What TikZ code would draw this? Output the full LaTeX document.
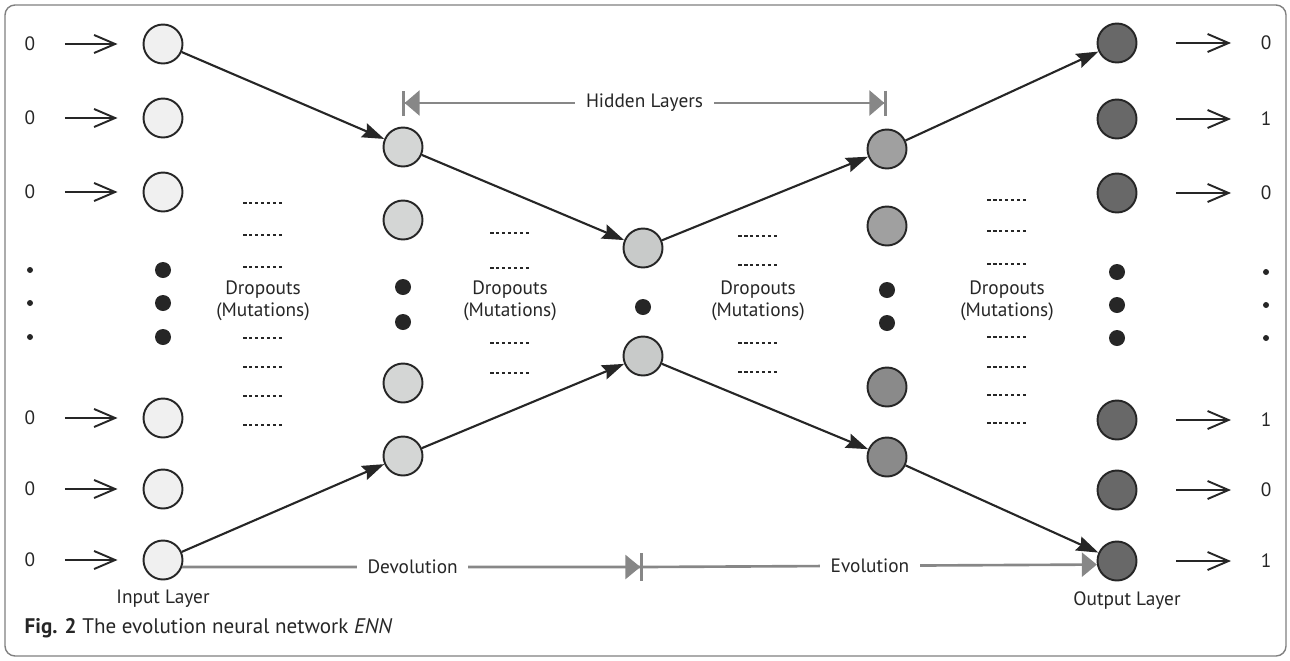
\documentclass[tikz,border=0pt]{standalone}
\usepackage{fontspec}
\setmainfont{PT Sans}
\usetikzlibrary{arrows.meta}
\definecolor{incol}{HTML}{F0F0F0}
\definecolor{hacol}{HTML}{D4D6D5}
\definecolor{midcol}{HTML}{C8CAC9}
\definecolor{hbcol}{HTML}{A0A0A0}
\definecolor{hccol}{HTML}{8A8A8A}
\definecolor{outcol}{HTML}{686868}
\definecolor{spancol}{HTML}{878787}
\tikzset{
every picture/.style={
line width=1pt
},
neuron/.style={circle, draw=black!85, line width=1.1pt, minimum size=0.78cm, inner sep=0pt},
link/.style={-{Stealth[length=0.44cm, width=0.3cm, inset=0.06cm]}, line width=1.2pt, black!85},
feed/.style={-{Straight Barb[length=0.42cm, width=0.36cm]}, line width=1.1pt, black!85},
span/.style={line width=1.5pt, spancol},
dropdots/.style={line width=1.1pt, black!85, dash pattern=on 2pt off 1.4pt},
lbl/.style={font=\fontsize{11}{12.6}\selectfont, text=black!85}
}

\begin{document}
\begin{tikzpicture}[x=0.02cm, y=-0.02cm]
\useasboundingbox (0,0) rectangle (1290,660);
\draw[black!50, line width=0.8pt, rounded corners=0.2cm] (5,5) rectangle (1286,656);

% input layer
\foreach \y [count=\ai] in {44, 118, 192, 418, 489, 560}{
  \node[neuron, fill=incol] (i\ai) at (163,\y) {};
  \node[lbl] (x\ai) at (30,\y) {0};
  \draw[feed, shorten <=0.46cm, shorten >=0.5cm] (x\ai) -- (i\ai);
}
% hidden layers
\foreach \y [count=\ai] in {147, 220, 383, 456}{
  \node[neuron, fill=hacol] (h\ai) at (403,\y) {};
}
\foreach \y [count=\ai] in {248, 356}{
  \node[neuron, fill=midcol] (m\ai) at (643,\y) {};
}
\foreach \y/\c [count=\ai] in {149/hbcol, 226/hbcol, 387/hccol, 457/hccol}{
  \node[neuron, fill=\c] (g\ai) at (887,\y) {};
}
% output layer
\foreach \y/\v [count=\ai] in {43/0, 119/1, 193/0, 420/1, 490/0, 561/1}{
  \node[neuron, fill=outcol] (o\ai) at (1117,\y) {};
  \node[lbl] (z\ai) at (1266,\y) {\v};
  \draw[feed, shorten <=0.78cm, shorten >=0.46cm] (o\ai) -- (z\ai);
}

% skipped neurons
\foreach \x/\y in {163/270, 163/303, 163/337, 403/287, 403/322, 643/307, 887/290, 887/323, 1117/272, 1117/305, 1117/338}{
  \fill[black!85] (\x,\y) circle[radius=8];
}
\foreach \x/\y in {30/270, 30/303, 30/337, 1266/272, 1266/305, 1266/338}{
  \fill[black!85] (\x,\y) circle[radius=3];
}

% dropouts
\foreach \x/\ys [count=\di] in {263/{203,235,267,338,367,396,425}, 510/{233,268,343,373}, 758/{236,265,343,372}, 1007/{200,231,264,337,367,395,423}}{
  \foreach \y in \ys {
    \draw[dropdots] (\x-20,\y) -- (\x+21,\y);
  }
  \node[lbl, align=center] (d\di) at (\x,301) {Dropouts\\(Mutations)};
}

% connections
\draw[link] (i1) -- (h1);
\draw[link] (h1) -- (m1);
\draw[link] (m1) -- (g1);
\draw[link] (g1) -- (o1);
\draw[link] (i6) -- (h4);
\draw[link] (h4) -- (m2);
\draw[link] (m2) -- (g4);
\draw[link] (g4) -- (o6);

% spans
\coordinate (hl) at (402,103);
\coordinate (hr) at (887,103);
\coordinate (cut) at (643,567);
\draw[span, {Bar[width=0.5cm]Triangle[length=0.3cm, width=0.5cm]}-{Triangle[length=0.3cm, width=0.5cm]Bar[width=0.5cm]}] (hl) -- node[lbl, fill=white, inner xsep=6pt] (hid) {Hidden Layers} (hr);
\draw[span, -{Triangle[length=0.3cm, width=0.48cm]Bar[width=0.55cm]}] (i6.-20) -- node[lbl, fill=white, inner xsep=6pt] (dev) {Devolution} (cut);
\draw[span, -{Triangle[length=0.3cm, width=0.48cm]}] (cut) -- node[lbl, fill=white, inner xsep=6pt] (evo) {Evolution} (o6.190);

\node[lbl] (inl) at (163,599) {Input Layer};
\node[lbl] (outl) at (1127,601) {Output Layer};
\node[lbl, font=\fontsize{12}{14}\selectfont, anchor=base west] (cap) at (18,633) {\textbf{Fig. 2} The evolution neural network \textit{ENN}};
\end{tikzpicture}
\end{document}
